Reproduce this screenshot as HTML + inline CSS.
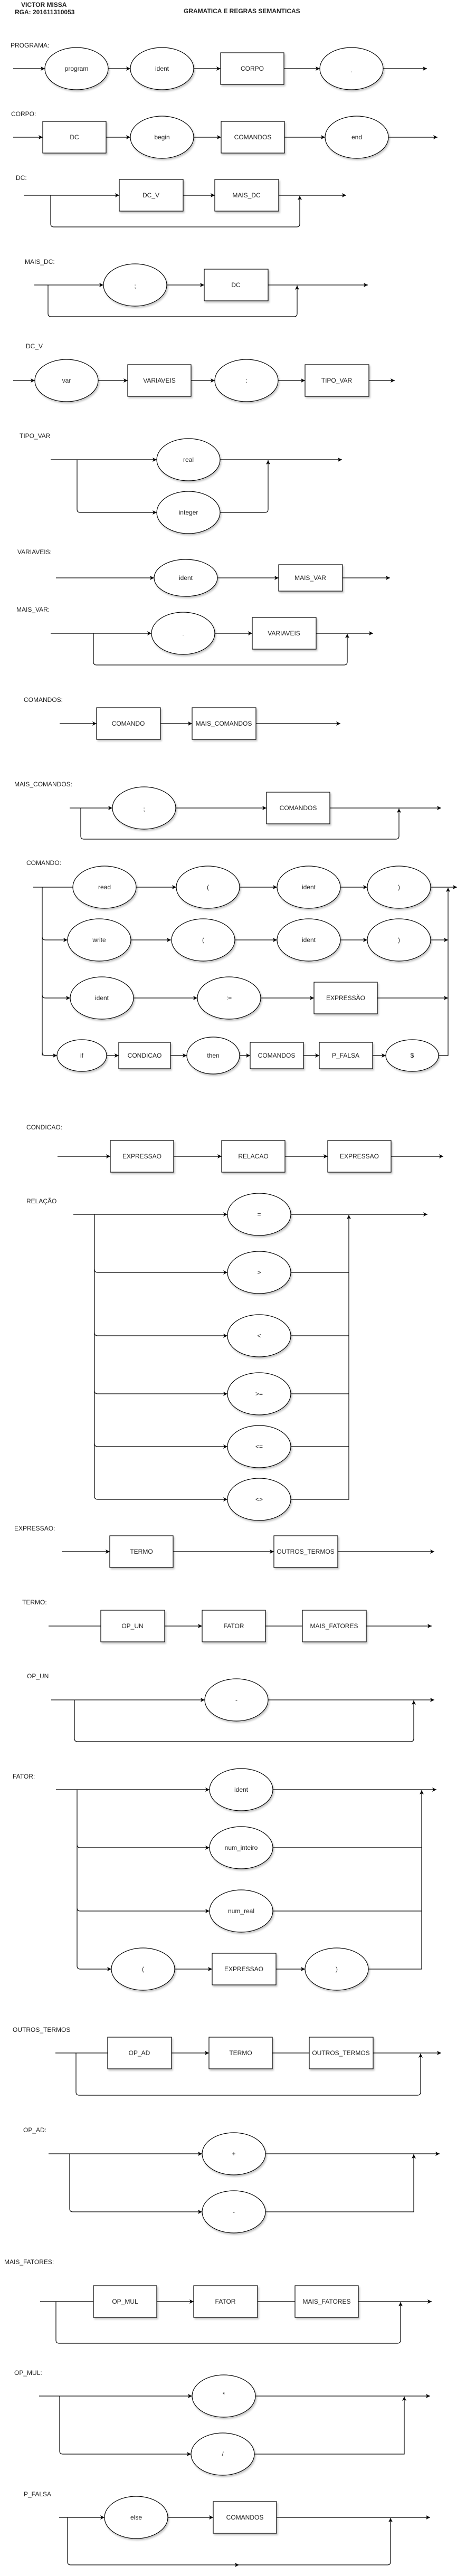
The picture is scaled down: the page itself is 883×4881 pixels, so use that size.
<!DOCTYPE html>
<html><head><meta charset="utf-8"><style>
html,body{margin:0;padding:0;background:#fff}
svg{display:block}
text{font-family:"Liberation Sans",Arial,sans-serif;font-size:12px;fill:#222}
.c{text-anchor:middle;dominant-baseline:central}
.l{fill:#333}
.ln{fill:none;stroke:#000;stroke-width:1.2}
.sh{fill:#fff;stroke:#000;stroke-width:1.2;filter:url(#ds)}
</style></head><body>
<svg width="883" height="4881" viewBox="0 0 883 4881" xmlns="http://www.w3.org/2000/svg">
<defs>
<marker id="a" markerUnits="userSpaceOnUse" markerWidth="10" markerHeight="10" refX="8" refY="4" orient="auto"><path d="M0,0 L8,4 L0,8 L2,4z" fill="#000"/></marker>
<filter id="ds" x="-20%" y="-20%" width="150%" height="150%"><feDropShadow dx="2" dy="3" stdDeviation="1.5" flood-color="#000" flood-opacity="0.22"/></filter>
</defs>

<text x="40" y="13" style="font-weight:bold">VICTOR MISSA</text>
<text x="28" y="27" style="font-weight:bold">RGA: 201611310053</text>
<text x="348" y="25" style="font-weight:bold">GRAMATICA E REGRAS SEMANTICAS</text>

<g id="lines" class="ln">
<!-- PROGRAMA -->
<path d="M25,130H85" marker-end="url(#a)"/><path d="M205,130H247" marker-end="url(#a)"/><path d="M367,130H418" marker-end="url(#a)"/><path d="M538,130H606" marker-end="url(#a)"/><path d="M726,130H809" marker-end="url(#a)"/>
<!-- CORPO -->
<path d="M25,260H81" marker-end="url(#a)"/><path d="M201,260H247" marker-end="url(#a)"/><path d="M367,260H419" marker-end="url(#a)"/><path d="M539,260H616" marker-end="url(#a)"/><path d="M736,260H829" marker-end="url(#a)"/>
<!-- DC -->
<path d="M45,370H226" marker-end="url(#a)"/><path d="M347,370H407" marker-end="url(#a)"/><path d="M528,370H656" marker-end="url(#a)"/>
<path d="M96,370V424Q96,430 102,430H562Q568,430 568,424V371" marker-end="url(#a)"/>
<!-- MAIS_DC -->
<path d="M65,540H196" marker-end="url(#a)"/><path d="M316,540H387" marker-end="url(#a)"/><path d="M508,540H697" marker-end="url(#a)"/>
<path d="M91,540V594Q91,600 97,600H557Q563,600 563,594V541" marker-end="url(#a)"/>
<!-- DC_V -->
<path d="M25,721H66" marker-end="url(#a)"/><path d="M186,721H242" marker-end="url(#a)"/><path d="M362,721H407" marker-end="url(#a)"/><path d="M527,721H578" marker-end="url(#a)"/><path d="M699,721H748" marker-end="url(#a)"/>
<!-- TIPO_VAR -->
<path d="M96,871H297" marker-end="url(#a)"/><path d="M417,871H648" marker-end="url(#a)"/>
<path d="M146,871V965Q146,971 152,971H297" marker-end="url(#a)"/>
<path d="M417,971H502Q508,971 508,965V872" marker-end="url(#a)"/>
<!-- VARIAVEIS -->
<path d="M106,1095H292" marker-end="url(#a)"/><path d="M412,1095H528" marker-end="url(#a)"/><path d="M649,1095H739" marker-end="url(#a)"/>
<!-- MAIS_VAR -->
<path d="M96,1200H287" marker-end="url(#a)"/><path d="M407,1200H478" marker-end="url(#a)"/><path d="M599,1200H707" marker-end="url(#a)"/>
<path d="M177,1200V1254Q177,1260 183,1260H652Q658,1260 658,1254V1201" marker-end="url(#a)"/>
<!-- COMANDOS -->
<path d="M113,1371H183" marker-end="url(#a)"/><path d="M304,1371H364" marker-end="url(#a)"/><path d="M485,1371H645" marker-end="url(#a)"/>
<!-- MAIS_COMANDOS -->
<path d="M132,1531H213" marker-end="url(#a)"/><path d="M333,1531H505" marker-end="url(#a)"/><path d="M625,1531H836" marker-end="url(#a)"/>
<path d="M153,1531V1584Q153,1590 159,1590H750Q756,1590 756,1584V1532" marker-end="url(#a)"/>
<!-- COMANDO -->
<path d="M63,1681H138"/><path d="M80,1681V2000"/>
<path d="M258,1681H334" marker-end="url(#a)"/><path d="M454,1681H525" marker-end="url(#a)"/><path d="M645,1681H696" marker-end="url(#a)"/><path d="M816,1681H866" marker-end="url(#a)"/>
<path d="M80,1775Q80,1781 86,1781H128" marker-end="url(#a)"/>
<path d="M248,1781H324" marker-end="url(#a)"/><path d="M445,1781H525" marker-end="url(#a)"/><path d="M645,1781H696" marker-end="url(#a)"/><path d="M816,1781H849" marker-end="url(#a)"/>
<path d="M80,1885Q80,1891 86,1891H133" marker-end="url(#a)"/>
<path d="M253,1891H374" marker-end="url(#a)"/><path d="M494,1891H595" marker-end="url(#a)"/><path d="M715,1891H849" marker-end="url(#a)"/>
<path d="M80,1994Q80,2000 86,2000H108" marker-end="url(#a)"/>
<path d="M202,2000H225" marker-end="url(#a)"/><path d="M323,2000H354" marker-end="url(#a)"/><path d="M454,2000H474" marker-end="url(#a)"/><path d="M575,2000H605" marker-end="url(#a)"/><path d="M706,2000H731" marker-end="url(#a)"/>
<path d="M831,2000H849V1682" marker-end="url(#a)"/>
<!-- CONDICAO -->
<path d="M109,2191H209" marker-end="url(#a)"/><path d="M329,2191H420" marker-end="url(#a)"/><path d="M540,2191H621" marker-end="url(#a)"/><path d="M741,2191H840" marker-end="url(#a)"/>
<!-- RELACAO -->
<path d="M139,2301H431" marker-end="url(#a)"/><path d="M179,2301V2835Q179,2841 185,2841H431" marker-end="url(#a)"/>
<path d="M179,2405Q179,2411 185,2411H431" marker-end="url(#a)"/>
<path d="M179,2525Q179,2531 185,2531H431" marker-end="url(#a)"/>
<path d="M179,2635Q179,2641 185,2641H431" marker-end="url(#a)"/>
<path d="M179,2735Q179,2741 185,2741H431" marker-end="url(#a)"/>
<path d="M551,2301H810" marker-end="url(#a)"/>
<path d="M551,2841H661V2302" marker-end="url(#a)"/>
<path d="M551,2411H661M551,2531H661M551,2641H661M551,2741H661"/>
<!-- EXPRESSAO -->
<path d="M117,2940H208" marker-end="url(#a)"/><path d="M328,2940H519" marker-end="url(#a)"/><path d="M640,2940H823" marker-end="url(#a)"/>
<!-- TERMO -->
<path d="M92,3081H191"/><path d="M312,3081H383" marker-end="url(#a)"/><path d="M503,3081H573"/><path d="M694,3081H818" marker-end="url(#a)"/>
<!-- OP_UN -->
<path d="M97,3221H388" marker-end="url(#a)"/><path d="M508,3221H823" marker-end="url(#a)"/>
<path d="M141,3221V3294Q141,3300 147,3300H778Q784,3300 784,3294V3222" marker-end="url(#a)"/>
<!-- FATOR -->
<path d="M106,3391H397" marker-end="url(#a)"/><path d="M517,3391H827" marker-end="url(#a)"/>
<path d="M146,3391V3725Q146,3731 152,3731H211" marker-end="url(#a)"/>
<path d="M146,3495Q146,3501 152,3501H397" marker-end="url(#a)"/>
<path d="M146,3615Q146,3621 152,3621H397" marker-end="url(#a)"/>
<path d="M331,3731H402" marker-end="url(#a)"/><path d="M523,3731H578" marker-end="url(#a)"/>
<path d="M698,3731H799V3392" marker-end="url(#a)"/>
<path d="M517,3501H799M517,3621H799"/>
<!-- OUTROS_TERMOS -->
<path d="M105,3890H204"/><path d="M325,3890H396" marker-end="url(#a)"/><path d="M516,3890H586"/><path d="M707,3890H836" marker-end="url(#a)"/>
<path d="M144,3890V3964Q144,3970 150,3970H791Q797,3970 797,3964V3891" marker-end="url(#a)"/>
<!-- OP_AD -->
<path d="M92,4081H383" marker-end="url(#a)"/><path d="M503,4081H833" marker-end="url(#a)"/>
<path d="M132,4081V4185Q132,4191 138,4191H383" marker-end="url(#a)"/>
<path d="M503,4191H784V4082" marker-end="url(#a)"/>
<!-- MAIS_FATORES -->
<path d="M76,4361H177"/><path d="M297,4361H367" marker-end="url(#a)"/><path d="M488,4361H559"/><path d="M679,4361H818" marker-end="url(#a)"/>
<path d="M106,4361V4434Q106,4440 112,4440H753Q759,4440 759,4434V4362" marker-end="url(#a)"/>
<!-- OP_MUL -->
<path d="M74,4540H364" marker-end="url(#a)"/><path d="M484,4540H815" marker-end="url(#a)"/>
<path d="M113,4540V4644Q113,4650 119,4650H362" marker-end="url(#a)"/>
<path d="M482,4650H766V4541" marker-end="url(#a)"/>
<!-- P_FALSA -->
<path d="M112,4770H198" marker-end="url(#a)"/><path d="M318,4770H404" marker-end="url(#a)"/><path d="M524,4770H815" marker-end="url(#a)"/>
<path d="M128,4770V4854Q128,4860 134,4860H453" marker-end="url(#a)"/>
<path d="M450,4860H734Q740,4860 740,4854V4771" marker-end="url(#a)"/>
</g>

<g class="sh">
<!-- ellipses rx60 ry40 -->
<ellipse cx="145" cy="130" rx="60" ry="40"/><ellipse cx="307" cy="130" rx="60" ry="40"/><ellipse cx="666" cy="130" rx="60" ry="40"/>
<ellipse cx="307" cy="260" rx="60" ry="40"/><ellipse cx="676" cy="260" rx="60" ry="40"/>
<ellipse cx="256" cy="540" rx="60" ry="40"/>
<ellipse cx="126" cy="721" rx="60" ry="40"/><ellipse cx="467" cy="721" rx="60" ry="40"/>
<ellipse cx="357" cy="871" rx="60" ry="40"/><ellipse cx="357" cy="971" rx="60" ry="40"/>
<ellipse cx="352" cy="1095" rx="60" ry="35"/>
<ellipse cx="347" cy="1200" rx="60" ry="40"/>
<ellipse cx="273" cy="1531" rx="60" ry="40"/>
<ellipse cx="198" cy="1681" rx="60" ry="40"/><ellipse cx="394" cy="1681" rx="60" ry="40"/><ellipse cx="585" cy="1681" rx="60" ry="40"/><ellipse cx="756" cy="1681" rx="60" ry="40"/>
<ellipse cx="188" cy="1781" rx="60" ry="40"/><ellipse cx="385" cy="1781" rx="60" ry="40"/><ellipse cx="585" cy="1781" rx="60" ry="40"/><ellipse cx="756" cy="1781" rx="60" ry="40"/>
<ellipse cx="193" cy="1891" rx="60" ry="40"/><ellipse cx="434" cy="1891" rx="60" ry="40"/>
<ellipse cx="155" cy="2000" rx="47" ry="30"/><ellipse cx="404" cy="2000" rx="50" ry="35"/><ellipse cx="781" cy="2000" rx="50" ry="30"/>
<ellipse cx="491" cy="2301" rx="60" ry="40"/><ellipse cx="491" cy="2411" rx="60" ry="40"/><ellipse cx="491" cy="2531" rx="60" ry="40"/><ellipse cx="491" cy="2641" rx="60" ry="40"/><ellipse cx="491" cy="2741" rx="60" ry="40"/><ellipse cx="491" cy="2841" rx="60" ry="40"/>
<ellipse cx="448" cy="3221" rx="60" ry="40"/>
<ellipse cx="457" cy="3391" rx="60" ry="40"/><ellipse cx="457" cy="3501" rx="60" ry="40"/><ellipse cx="457" cy="3621" rx="60" ry="40"/>
<ellipse cx="271" cy="3731" rx="60" ry="40"/><ellipse cx="638" cy="3731" rx="60" ry="40"/>
<ellipse cx="443" cy="4081" rx="60" ry="40"/><ellipse cx="443" cy="4191" rx="60" ry="40"/>
<ellipse cx="424" cy="4540" rx="60" ry="40"/><ellipse cx="422" cy="4650" rx="60" ry="40"/>
<ellipse cx="258" cy="4770" rx="60" ry="40"/>
<!-- rects -->
<rect x="418" y="100" width="120" height="60"/>
<rect x="81" y="230" width="120" height="60"/><rect x="419" y="230" width="120" height="60"/>
<rect x="226" y="340" width="121" height="60"/><rect x="407" y="340" width="121" height="60"/>
<rect x="387" y="510" width="121" height="60"/>
<rect x="242" y="691" width="120" height="60"/><rect x="578" y="691" width="121" height="60"/>
<rect x="528" y="1070" width="121" height="50"/>
<rect x="478" y="1170" width="121" height="60"/>
<rect x="183" y="1341" width="121" height="60"/><rect x="364" y="1341" width="121" height="60"/>
<rect x="505" y="1501" width="120" height="60"/>
<rect x="595" y="1861" width="120" height="60"/>
<rect x="225" y="1975" width="98" height="50"/><rect x="474" y="1975" width="101" height="50"/><rect x="605" y="1975" width="101" height="50"/>
<rect x="209" y="2161" width="120" height="60"/><rect x="420" y="2161" width="120" height="60"/><rect x="621" y="2161" width="120" height="60"/>
<rect x="208" y="2910" width="120" height="60"/><rect x="519" y="2910" width="121" height="60"/>
<rect x="191" y="3051" width="121" height="60"/><rect x="383" y="3051" width="120" height="60"/><rect x="573" y="3051" width="121" height="60"/>
<rect x="402" y="3701" width="121" height="60"/>
<rect x="204" y="3860" width="121" height="60"/><rect x="396" y="3860" width="120" height="60"/><rect x="586" y="3860" width="121" height="60"/>
<rect x="177" y="4331" width="120" height="60"/><rect x="367" y="4331" width="121" height="60"/><rect x="559" y="4331" width="120" height="60"/>
<rect x="404" y="4740" width="120" height="60"/>
</g>

<g class="c">
<text x="145" y="130">program</text><text x="307" y="130">ident</text><text x="478" y="130">CORPO</text><text x="666" y="133">.</text>
<text x="141" y="260">DC</text><text x="307" y="260">begin</text><text x="479" y="260">COMANDOS</text><text x="676" y="260">end</text>
<text x="286" y="370">DC_V</text><text x="467" y="370">MAIS_DC</text>
<text x="256" y="542">;</text><text x="447" y="540">DC</text>
<text x="126" y="721">var</text><text x="302" y="721">VARIAVEIS</text><text x="467" y="721">:</text><text x="638" y="721">TIPO_VAR</text>
<text x="357" y="871">real</text><text x="357" y="971">integer</text>
<text x="352" y="1095">ident</text><text x="588" y="1095">MAIS_VAR</text>
<text x="347" y="1203" style="font-size:6px">,</text><text x="538" y="1200">VARIAVEIS</text>
<text x="243" y="1371">COMANDO</text><text x="424" y="1371">MAIS_COMANDOS</text>
<text x="273" y="1533">;</text><text x="565" y="1531">COMANDOS</text>
<text x="198" y="1681">read</text><text x="394" y="1681">(</text><text x="585" y="1681">ident</text><text x="756" y="1681">)</text>
<text x="188" y="1781">write</text><text x="385" y="1781">(</text><text x="585" y="1781">ident</text><text x="756" y="1781">)</text>
<text x="193" y="1891">ident</text><text x="434" y="1891">:=</text><text x="655" y="1891">EXPRESSÃO</text>
<text x="155" y="2000">if</text><text x="274" y="2000">CONDICAO</text><text x="404" y="2000">then</text><text x="524" y="2000">COMANDOS</text><text x="655" y="2000">P_FALSA</text><text x="781" y="2000">$</text>
<text x="269" y="2191">EXPRESSAO</text><text x="480" y="2191">RELACAO</text><text x="681" y="2191">EXPRESSAO</text>
<text x="491" y="2301">=</text><text x="491" y="2411">&gt;</text><text x="491" y="2531">&lt;</text><text x="491" y="2641">&gt;=</text><text x="491" y="2741">&lt;=</text><text x="491" y="2841">&lt;&gt;</text>
<text x="268" y="2940">TERMO</text><text x="579" y="2940">OUTROS_TERMOS</text>
<text x="251" y="3081">OP_UN</text><text x="443" y="3081">FATOR</text><text x="633" y="3081">MAIS_FATORES</text>
<text x="448" y="3221">-</text>
<text x="457" y="3391">ident</text><text x="457" y="3501">num_inteiro</text><text x="457" y="3621">num_real</text>
<text x="271" y="3731">(</text><text x="462" y="3731">EXPRESSAO</text><text x="638" y="3731">)</text>
<text x="264" y="3890">OP_AD</text><text x="456" y="3890">TERMO</text><text x="646" y="3890">OUTROS_TERMOS</text>
<text x="443" y="4081">+</text><text x="443" y="4191">-</text>
<text x="237" y="4361">OP_MUL</text><text x="427" y="4361">FATOR</text><text x="619" y="4361">MAIS_FATORES</text>
<text x="424" y="4537">*</text><text x="422" y="4650">/</text>
<text x="258" y="4770">else</text><text x="464" y="4770">COMANDOS</text>
</g>

<g class="l">
<text x="20" y="90">PROGRAMA:</text>
<text x="21" y="220">CORPO:</text>
<text x="30" y="341">DC:</text>
<text x="47" y="500">MAIS_DC:</text>
<text x="49" y="660">DC_V</text>
<text x="37" y="830">TIPO_VAR</text>
<text x="33" y="1050">VARIAVEIS:</text>
<text x="31" y="1159">MAIS_VAR:</text>
<text x="45" y="1330">COMANDOS:</text>
<text x="27" y="1490">MAIS_COMANDOS:</text>
<text x="50" y="1639">COMANDO:</text>
<text x="50" y="2140">CONDICAO:</text>
<text x="50" y="2280">RELAÇÃO</text>
<text x="27" y="2900">EXPRESSAO:</text>
<text x="42" y="3040">TERMO:</text>
<text x="51" y="3180">OP_UN</text>
<text x="24" y="3370">FATOR:</text>
<text x="24" y="3850">OUTROS_TERMOS</text>
<text x="44" y="4040">OP_AD:</text>
<text x="8" y="4290">MAIS_FATORES:</text>
<text x="27" y="4500">OP_MUL:</text>
<text x="45" y="4730">P_FALSA</text>
</g>
</svg>
</body></html>
